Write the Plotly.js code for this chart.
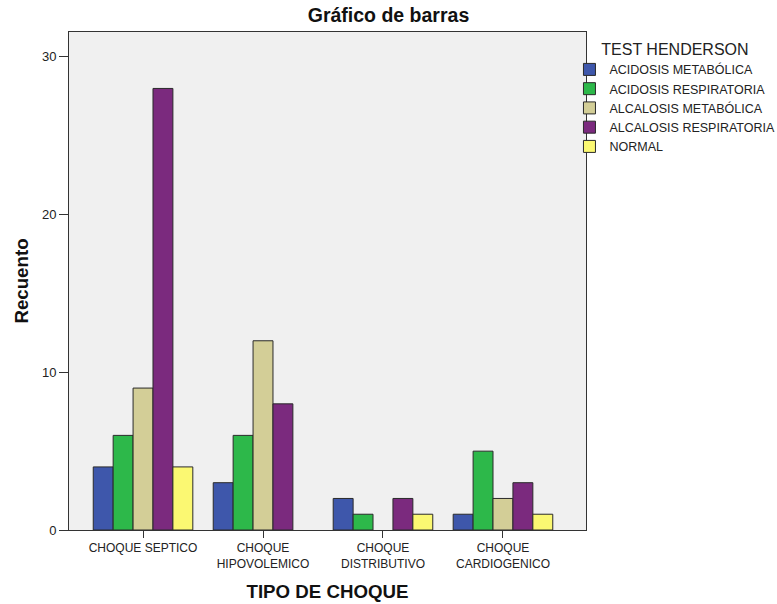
<!DOCTYPE html>
<html>
<head>
<meta charset="utf-8">
<script src="https://cdn.plot.ly/plotly-3.0.1.min.js"></script>
<style>body{margin:0;padding:0;background:#fff;}#chart{width:777px;height:604px;}</style>
</head>
<body>
<div id="chart"></div>
<script>
const categories = ["CHOQUE SEPTICO", "CHOQUE<br>HIPOVOLEMICO", "CHOQUE<br>DISTRIBUTIVO", "CHOQUE<br>CARDIOGENICO"];
const seriesNames = ["ACIDOSIS METABÓLICA", "ACIDOSIS RESPIRATORIA", "ALCALOSIS METABÓLICA", "ALCALOSIS RESPIRATORIA", "NORMAL"];
const acidosisMetabolica = [4, 3, 2, 1];
const acidosisRespiratoria = [6, 6, 1, 5];
const alcalosisMetabolica = [9, 12, 0, 2];
const alcalosisRespiratoria = [28, 8, 2, 3];
const normal = [4, 0, 1, 1];
const yTicks = [0, 10, 20, 30];

const seriesValues = [acidosisMetabolica, acidosisRespiratoria, alcalosisMetabolica, alcalosisRespiratoria, normal];
const colors = ["#3E57AB", "#2DB84A", "#D3CE97", "#7B2A7E", "#FBF872"];

const traces = seriesNames.map((name, i) => ({
  type: "bar",
  name: name,
  x: categories,
  y: seriesValues[i],
  marker: {
    color: colors[i],
    line: {color: "#2a2a2a", width: seriesValues[i].map(v => v > 0 ? 1 : 0)}
  },
  hoverinfo: "x+y+name"
}));

const layout = {
  width: 777,
  height: 604,
  margin: {l: 69, r: 191, t: 32, b: 74, pad: 0, autoexpand: false},
  paper_bgcolor: "#ffffff",
  plot_bgcolor: "#F0F0F0",
  font: {family: "Liberation Sans, Arial, sans-serif", color: "#222"},
  title: {text: "<b>Gráfico de barras</b>", font: {size: 19.5, color: "#111"}, x: 0.5, xref: "container", y: 0.975, yref: "container", xanchor: "center", yanchor: "middle"},
  barmode: "group",
  bargap: 0.17,
  bargroupgap: 0,
  xaxis: {
    type: "category",
    range: [-0.617, 3.692],
    showline: true, linecolor: "#333", linewidth: 1, mirror: true,
    ticks: "outside", ticklen: 7, tickcolor: "#333",
    tickfont: {size: 12, color: "#222"},
    showgrid: false, zeroline: false,
    title: {text: "<b>TIPO DE CHOQUE</b>", font: {size: 18.7, color: "#111"}, standoff: 14}
  },
  yaxis: {
    range: [0, 31.58],
    tickvals: yTicks,
    showline: true, linecolor: "#333", linewidth: 1, mirror: true,
    ticks: "outside", ticklen: 9, tickcolor: "#333",
    tickfont: {size: 13, color: "#222"},
    showgrid: false, zeroline: false,
    title: {text: "<b>Recuento</b>", font: {size: 18.7, color: "#111"}, standoff: 8}
  },
  legend: {
    x: 0.968, xanchor: "left", y: 0.996, yanchor: "top",
    font: {size: 12.5, color: "#222"},
    title: {text: "TEST HENDERSON", font: {size: 16, color: "#222"}, side: "top center"},
    bgcolor: "rgba(0,0,0,0)",
    itemwidth: 30,
    traceorder: "normal"
  },
  showlegend: true
};

Plotly.newPlot("chart", traces, layout, {displayModeBar: false, staticPlot: true});
</script>
</body>
</html>
